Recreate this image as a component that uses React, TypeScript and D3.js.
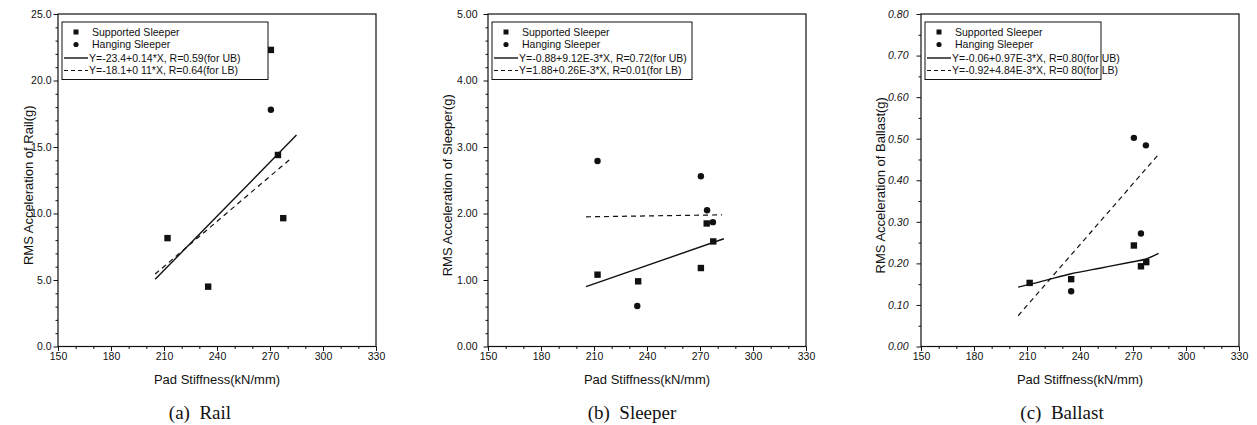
import React, { useEffect, useRef } from "react";
import * as d3 from "d3";

// ---------- data ----------
const xTickValues = [150, 180, 210, 240, 270, 300, 330];

// (a) Rail
const railSupX = [212, 235, 270.5, 274.5, 277.5];
const railSupY = [8.15, 4.5, 22.3, 14.4, 9.65];
const railHangX = [270.5];
const railHangY = [17.8];
const railUBX = [205, 285];
const railUBY = [5.05, 15.9];
const railLBX = [205, 281.5];
const railLBY = [5.45, 14.1];
const railYTicks = [0, 5, 10, 15, 20, 25];
const railLegend = ["Y=-23.4+0.14*X, R=0.59(for UB)", "Y=-18.1+0 11*X, R=0.64(for LB)"];

// (b) Sleeper
const sleeperSupX = [212, 235, 270.5, 273.8, 277.5];
const sleeperSupY = [1.08, 0.98, 1.18, 1.85, 1.58];
const sleeperHangX = [212, 234.5, 270.5, 274, 277.3];
const sleeperHangY = [2.79, 0.61, 2.56, 2.05, 1.87];
const sleeperUBX = [205.5, 283.5];
const sleeperUBY = [0.9, 1.62];
const sleeperLBX = [205.5, 282.5];
const sleeperLBY = [1.95, 1.98];
const sleeperYTicks = [0, 1, 2, 3, 4, 5];
const sleeperLegend = ["Y=-0.88+9.12E-3*X, R=0.72(for UB)", "Y=1.88+0.26E-3*X, R=0.01(for LB)"];

// (c) Ballast
const ballastSupX = [211.5, 235, 270.5, 274.5, 277.5];
const ballastSupY = [0.153, 0.162, 0.243, 0.193, 0.203];
const ballastHangX = [235, 270.5, 274.5, 277.3];
const ballastHangY = [0.133, 0.502, 0.272, 0.484];
const ballastUBX = [205, 212, 222, 235, 252, 270, 277, 284.5];
const ballastUBY = [0.143, 0.15, 0.161, 0.175, 0.189, 0.204, 0.21, 0.224];
const ballastLBX = [205, 284];
const ballastLBY = [0.074, 0.46];
const ballastYTicks = [0, 0.1, 0.2, 0.3, 0.4, 0.5, 0.6, 0.7, 0.8];
const ballastLegend = ["Y=-0.06+0.97E-3*X, R=0.80(for UB)", "Y=-0.92+4.84E-3*X, R=0 80(for LB)"];

const legendNames = ["Supported Sleeper", "Hanging Sleeper"];

type PanelCfg = {
  x0: number;
  yMax: number;
  yTicks: number[];
  yMinorStep: number;
  fmt: string;
  italicY: boolean;
  yPad: number;
  yTitle: string;
  yTitleDx: number;
  caption: string;
  captionX: number;
  supX: number[]; supY: number[];
  hangX: number[]; hangY: number[];
  ubX: number[]; ubY: number[];
  lbX: number[]; lbY: number[];
  legend: string[];
  legendW: number;
  legendDx: number;
  curve: boolean;
};

const panels: PanelCfg[] = [
  { x0: 58, yMax: 25, yTicks: railYTicks, yMinorStep: 1, fmt: ".1f", italicY: false, yPad: 2,
    yTitle: "RMS Acceleration of Rail(g)", yTitleDx: 25, caption: "(a)  Rail", captionX: 200,
    supX: railSupX, supY: railSupY, hangX: railHangX, hangY: railHangY,
    ubX: railUBX, ubY: railUBY, lbX: railLBX, lbY: railLBY, legend: railLegend, legendW: 206, legendDx: 4, curve: false },
  { x0: 488, yMax: 5, yTicks: sleeperYTicks, yMinorStep: 0.2, fmt: ".2f", italicY: false, yPad: 6,
    yTitle: "RMS Acceleration of Sleeper(g)", yTitleDx: 36, caption: "(b)  Sleeper", captionX: 632,
    supX: sleeperSupX, supY: sleeperSupY, hangX: sleeperHangX, hangY: sleeperHangY,
    ubX: sleeperUBX, ubY: sleeperUBY, lbX: sleeperLBX, lbY: sleeperLBY, legend: sleeperLegend, legendW: 200, legendDx: 4, curve: false },
  { x0: 921, yMax: 0.8, yTicks: ballastYTicks, yMinorStep: 0.05, fmt: ".2f", italicY: true, yPad: 8,
    yTitle: "RMS Acceleration of Ballast(g)", yTitleDx: 36, caption: "(c)  Ballast", captionX: 1062,
    supX: ballastSupX, supY: ballastSupY, hangX: ballastHangX, hangY: ballastHangY,
    ubX: ballastUBX, ubY: ballastUBY, lbX: ballastLBX, lbY: ballastLBY, legend: ballastLegend, legendW: 176, legendDx: 4, curve: true },
];

const W = 1257;
const H = 425;
const TOP = 14;
const BOTTOM = 346.5;
const PW = 318;
const FONT = "'Liberation Sans', Arial, sans-serif";

function drawPanel(g: d3.Selection<SVGGElement, unknown, null, undefined>, p: PanelCfg) {
  const x = d3.scaleLinear().domain([150, 330]).range([p.x0, p.x0 + PW]);
  const y = d3.scaleLinear().domain([0, p.yMax]).range([BOTTOM, TOP]);

  // frame
  g.append("rect")
    .attr("x", p.x0).attr("y", TOP).attr("width", PW).attr("height", BOTTOM - TOP)
    .attr("fill", "none").attr("stroke", "#111").attr("stroke-width", 1.2);

  // x axis
  const minorX = d3.range(150, 331, 10).filter((v) => !xTickValues.includes(v));
  const xMinor = g.append("g").attr("transform", `translate(0,${BOTTOM})`)
    .call(d3.axisBottom(x).tickValues(minorX).tickSize(2.5).tickFormat(() => ""));
  xMinor.select(".domain").remove();
  const xAx = g.append("g").attr("transform", `translate(0,${BOTTOM})`)
    .call(d3.axisBottom(x).tickValues(xTickValues).tickSize(4.5).tickPadding(2).tickFormat(d3.format("d")));
  xAx.select(".domain").remove();
  xAx.selectAll("text").attr("font-size", 10.5).attr("font-family", FONT).attr("fill", "#111");

  // y axis
  const nMinor = Math.round(p.yMax / p.yMinorStep);
  const minorY = d3.range(0, nMinor + 1).map((i) => i * p.yMinorStep)
    .filter((v) => !p.yTicks.some((t) => Math.abs(t - v) < 1e-9));
  const yMinor = g.append("g").attr("transform", `translate(${p.x0},0)`)
    .call(d3.axisLeft(y).tickValues(minorY).tickSize(2.5).tickFormat(() => ""));
  yMinor.select(".domain").remove();
  const yAx = g.append("g").attr("transform", `translate(${p.x0},0)`)
    .call(d3.axisLeft(y).tickValues(p.yTicks).tickSize(4.5).tickPadding(p.yPad).tickFormat(d3.format(p.fmt)));
  yAx.select(".domain").remove();
  yAx.selectAll("text").attr("font-size", 10.5).attr("font-family", FONT).attr("fill", "#111")
    .attr("font-style", p.italicY ? "italic" : "normal");
  g.selectAll(".tick line").attr("stroke", "#111").attr("stroke-width", 1);

  // titles
  g.append("text").attr("x", p.x0 + 159).attr("y", 384).attr("text-anchor", "middle")
    .attr("font-size", 13).attr("font-family", FONT).attr("fill", "#111").text("Pad Stiffness(kN/mm)");
  g.append("text").attr("transform", `translate(${p.x0 - p.yTitleDx},${(TOP + BOTTOM) / 2 + 5}) rotate(-90)`)
    .attr("text-anchor", "middle").attr("font-size", 13).attr("font-family", FONT).attr("fill", "#111").text(p.yTitle);
  g.append("text").attr("x", p.captionX).attr("y", 419).attr("text-anchor", "middle")
    .attr("font-size", 19).attr("font-family", "'Liberation Serif', 'Times New Roman', serif")
    .attr("fill", "#111").style("white-space", "pre").text(p.caption);

  // fit lines
  const mk = (xs: number[], ys: number[]) => {
    const l = d3.line<number>().x((v) => x(v)).y((_, i) => y(ys[i]));
    if (p.curve) l.curve(d3.curveMonotoneX);
    return l(xs);
  };
  g.append("path").attr("d", mk(p.ubX, p.ubY)).attr("fill", "none").attr("stroke", "#111").attr("stroke-width", 1.4);
  g.append("path").attr("d", mk(p.lbX, p.lbY)).attr("fill", "none").attr("stroke", "#111").attr("stroke-width", 1.2)
    .attr("stroke-dasharray", "5,4");

  // points
  g.selectAll(".sq").data(p.supX).enter().append("rect")
    .attr("x", (d) => x(d) - 3.2).attr("y", (_, i) => y(p.supY[i]) - 3.2)
    .attr("width", 6.4).attr("height", 6.4).attr("fill", "#111");
  g.selectAll(".ci").data(p.hangX).enter().append("circle")
    .attr("cx", (d) => x(d)).attr("cy", (_, i) => y(p.hangY[i])).attr("r", 3.2).attr("fill", "#111");

  // legend
  const lx = p.x0 + p.legendDx;
  const ly = 22;
  g.append("rect").attr("x", lx).attr("y", ly).attr("width", p.legendW).attr("height", 57.5)
    .attr("fill", "#fff").attr("stroke", "#111").attr("stroke-width", 1);
  const rows = [32, 44.5, 58, 70.5];
  const sampleX0 = lx + 2;
  const sampleX1 = lx + 26;
  const markX = lx + 14;
  const textX = lx + 30;
  g.append("rect").attr("x", markX - 2.5).attr("y", rows[0] - 2.5).attr("width", 5).attr("height", 5).attr("fill", "#111");
  g.append("circle").attr("cx", markX).attr("cy", rows[1]).attr("r", 2.6).attr("fill", "#111");
  g.append("line").attr("x1", sampleX0).attr("x2", sampleX1).attr("y1", rows[2]).attr("y2", rows[2])
    .attr("stroke", "#111").attr("stroke-width", 1.4);
  g.append("line").attr("x1", sampleX0).attr("x2", sampleX1).attr("y1", rows[3]).attr("y2", rows[3])
    .attr("stroke", "#111").attr("stroke-width", 1.1).attr("stroke-dasharray", "4,3");
  const texts = [legendNames[0], legendNames[1], p.legend[0], p.legend[1]];
  texts.forEach((t, i) => {
    g.append("text").attr("x", i < 2 ? textX : sampleX1 + 1).attr("y", rows[i] + 3.7)
      .attr("font-size", 10.5).attr("font-family", FONT).attr("fill", "#111").text(t);
  });
}

export default function App() {
  const ref = useRef<SVGSVGElement>(null);
  useEffect(() => {
    if (!ref.current) return;
    const svg = d3.select(ref.current);
    svg.selectAll("*").remove();
    panels.forEach((p) => drawPanel(svg.append("g") as any, p));
  }, []);
  return (
    <svg ref={ref} width={W} height={H} style={{ position: "absolute", left: 0, top: 0, background: "#fff" }} />
  );
}
